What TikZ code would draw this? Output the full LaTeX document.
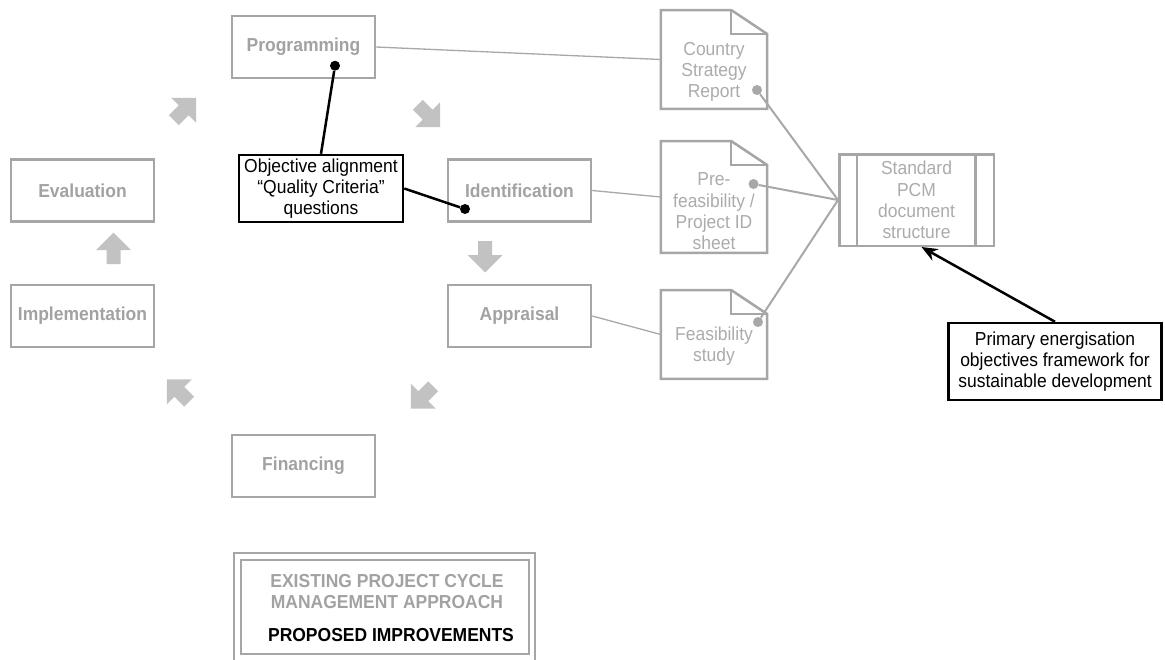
\documentclass[tikz,border=0pt]{standalone}
\usepackage{fontspec}
\setmainfont[FakeStretch=0.93]{Liberation Sans}
\usetikzlibrary{arrows.meta}
\definecolor{boxgray}{HTML}{A6A6A6}
\definecolor{txtgray}{HTML}{A2A2A2}
\definecolor{doctxt}{HTML}{ABABAB}
\definecolor{arrgray}{HTML}{C2C2C2}
\definecolor{linegray}{HTML}{A8A8A8}
\newcommand{\dfont}{\fontsize{18.8}{21.3}\selectfont}
\tikzset{
  barrow/.pic={\fill[arrgray] (-14,-7) -- (0,-7) -- (0,-17.5) -- (17.5,0) -- (0,17.5) -- (0,7) -- (-14,7) -- cycle;},
  phase/.style={draw=boxgray, line width=2.5pt, minimum width=143pt, minimum height=62pt, inner sep=0pt,
    font=\dfont\bfseries, text=txtgray},
  docframe/.style={minimum width=106pt, inner sep=0pt},
  docline/.style={draw=boxgray, line width=2.5pt, line join=miter},
  doctext/.style={align=center, inner sep=0pt, font=\dfont, text=doctxt},
  pcmbox/.style={draw=boxgray, line width=2.5pt, minimum width=154.5pt, minimum height=91.5pt, inner sep=0pt,
    align=center, font=\dfont, text=doctxt},
  callout/.style={draw=black, line width=2.5pt, inner sep=0pt, align=center,
    font=\dfont, text=black},
  thinlink/.style={draw=linegray, line width=1.3pt},
  doclink/.style={draw=linegray, line width=2pt},
  gdot/.style={circle, fill=linegray, minimum size=10pt, inner sep=0pt},
  bdot/.style={circle, fill=black, minimum size=10pt, inner sep=0pt},
  bline/.style={draw=black, line width=2.5pt},
  legline/.style={draw=boxgray, line width=1.5pt},
  legtext/.style={inner sep=0pt, align=center, font=\dfont\bfseries}
}
\begin{document}
\begin{tikzpicture}[x=1pt,y=-1pt]
\path[use as bounding box] (0,0) rectangle (1165,659);

% phase boxes
\node[phase] (prog) at (303.5,47) {Programming};
\node[phase] (eval) at (82.5,190.5) {Evaluation};
\node[phase] (impl) at (82.5,316) {Implementation};
\node[phase] (iden) at (519.5,190.5) {Identification};
\node[phase] (appr) at (519.5,316) {Appraisal};
\node[phase] (fin) at (303.5,466) {Financing};

% cycle arrows
\pic[rotate=45] at (183.7,110.3) {barrow};
\pic[rotate=-45] at (427.7,114.7) {barrow};
\pic[rotate=-90] at (485,255) {barrow};
\pic[rotate=225] at (423.3,396.2) {barrow};
\pic[rotate=135] at (179.3,391.8) {barrow};
\pic[rotate=90] at (113.5,250) {barrow};

% documents
\node[docframe, minimum height=98.5pt] (csr) at (714,59.5) {};
\node[docframe, minimum height=111.5pt] (pre) at (714,197) {};
\node[docframe, minimum height=88.5pt] (feas) at (714,334.5) {};
\foreach \d in {csr,pre,feas}{
  \draw[docline] ([xshift=-36pt]\d.north east) -- (\d.north west) -- (\d.south west) -- (\d.south east) -- ([yshift=-24pt]\d.north east) -- cycle;
  \draw[docline] ([xshift=-36pt]\d.north east) |- ([yshift=-24pt]\d.north east);
}
\node[doctext] (csrt) at (714,72) {Country\\Strategy\\Report};
\node[doctext] (pret) at (714,211.5) {Pre-\\feasibility /\\Project ID\\sheet};
\node[doctext] (feast) at (714,346) {Feasibility\\study};

% standard PCM
\node[pcmbox] (pcm) at (916.5,200) {Standard\\PCM\\document\\structure};
\draw[draw=boxgray, line width=2.5pt] ([xshift=19pt]pcm.north west) -- ([xshift=19pt]pcm.south west);
\draw[draw=boxgray, line width=2.5pt] ([xshift=-19.5pt]pcm.north east) -- ([xshift=-19.5pt]pcm.south east);

% thin links phase -> document
\draw[thinlink] (prog.east) -- (csr.west);
\draw[thinlink] (iden.east) -- (pre.west);
\draw[thinlink] (appr.east) -- (feas.west);

% document dots -> PCM
\node[gdot] (d1) at (757,90) {};
\node[gdot] (d2) at (753.5,184) {};
\node[gdot] (d3) at (758,322) {};
\draw[doclink] (d1) -- (pcm.west);
\draw[doclink] (d2) -- (pcm.west);
\draw[doclink] (d3) -- (pcm.west);

% objective alignment callout
\node[callout, minimum width=164pt, minimum height=67pt] (obj) at (321,188.5) {Objective alignment\\“Quality Criteria”\\questions};
\node[bdot] (od1) at (335,65.7) {};
\node[bdot] (od2) at (465,209) {};
\draw[bline] (obj.north) -- (od1);
\draw[bline] (obj.east) -- (od2);

% primary energisation callout
\node[callout, minimum width=213pt, minimum height=77pt] (prim) at (1055,361.5) {Primary energisation\\objectives framework for\\sustainable development};
\draw[bline, -{Stealth[length=16pt,width=13pt]}] (prim.north) -- ([xshift=5pt]pcm.south);

% legend
\draw[legline] (234,553) rectangle (535,675);
\draw[legline] (241,560) rectangle (529,654);
\node[legtext, text=txtgray] (leg1) at (387,591.5) {EXISTING PROJECT CYCLE\\MANAGEMENT APPROACH};
\node[legtext, text=black] (leg2) at (391,635) {PROPOSED IMPROVEMENTS};
\end{tikzpicture}
\end{document}
